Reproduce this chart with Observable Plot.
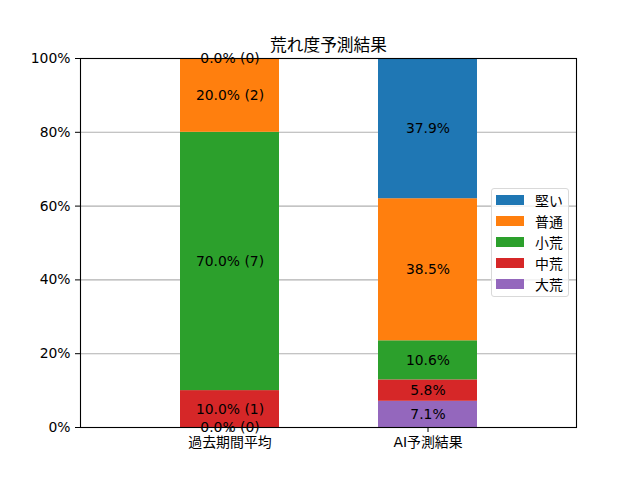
<!DOCTYPE html>
<html>
<head>
<meta charset="utf-8">
<script src="https://cdn.jsdelivr.net/npm/d3@7"></script>
<script src="https://cdn.jsdelivr.net/npm/@observablehq/plot@0.6"></script>
<style>
  html, body { margin: 0; padding: 0; background: #fff; }
  #wrap { position: relative; width: 640px; height: 480px; font-family: "DejaVu Sans", "Noto Sans CJK JP", sans-serif; }
  #legend { position: absolute; left: 491px; top: 188px; width: 78px; height: 109px; box-sizing: border-box;
    border: 1px solid #d9d9d9; border-radius: 3px; background: rgba(255,255,255,0.8); padding: 0 0 0 4px; }
  .item { display: flex; align-items: center; height: 21px; font-size: 13.9px; color: #000; }
  .sw { width: 28px; height: 10px; margin-right: 11px; flex: none; }
</style>
</head>
<body>
<div id="wrap"></div>
<script>
const categories = ["過去期間平均", "AI予測結果"];
const seriesNames = ["大荒", "中荒", "小荒", "普通", "堅い"];
const seriesColors = ["#9467bd", "#d62728", "#2ca02c", "#ff7f0e", "#1f77b4"];
const pastPct = [0.0, 10.0, 70.0, 20.0, 0.0];
const pastCount = [0, 1, 7, 2, 0];
const aiPct = [7.1, 5.8, 10.6, 38.5, 37.9];
const yTicks = [0, 0.2, 0.4, 0.6, 0.8, 1.0];
const title = "荒れ度予測結果";

const data = [];
seriesNames.forEach((s, i) => {
  data.push({cat: categories[0], series: s, value: pastPct[i] / 100, label: `${pastPct[i].toFixed(1)}% (${pastCount[i]})`});
});
seriesNames.forEach((s, i) => {
  data.push({cat: categories[1], series: s, value: aiPct[i] / 100, label: `${aiPct[i].toFixed(1)}%`});
});

const font = `"DejaVu Sans", "Noto Sans CJK JP", sans-serif`;

const chart = Plot.plot({
  width: 640,
  height: 480,
  marginTop: 58,
  marginBottom: 53,
  marginLeft: 80,
  marginRight: 64,
  style: {fontFamily: font, fontSize: "13.9px", color: "#000", background: "#fff"},
  x: {domain: categories, padding: 0.5, label: null},
  y: {domain: [0, 1], label: null},
  color: {domain: seriesNames, range: seriesColors},
  marks: [
    Plot.gridY(yTicks, {stroke: "#b0b0b0", strokeOpacity: 1, strokeWidth: 1.1}),
    Plot.barY(data, Plot.stackY({x: "cat", y: "value", z: "series", fill: "series", order: seriesNames})),
    Plot.text(data, Plot.stackY({x: "cat", y: "value", z: "series", text: "label", order: seriesNames, fill: "#000", fontSize: 13.9})),
    Plot.frame({stroke: "#000", strokeWidth: 1.1}),
    Plot.axisY({ticks: yTicks, tickFormat: d3.format(".0%"), tickSize: 5, tickPadding: 5, fontSize: 13.9, label: null}),
    Plot.axisX({tickSize: 5, tickPadding: 5, fontSize: 13.9, label: null}),
    Plot.text([title], {frameAnchor: "top", dy: -19, fontSize: 16.7, fill: "#000"})
  ]
});

const wrap = document.getElementById("wrap");
wrap.appendChild(chart);

const legend = document.createElement("div");
legend.id = "legend";
for (let i = seriesNames.length - 1; i >= 0; i--) {
  const it = document.createElement("div");
  it.className = "item";
  const sw = document.createElement("div");
  sw.className = "sw";
  sw.style.background = seriesColors[i];
  const lab = document.createElement("span");
  lab.textContent = seriesNames[i];
  it.appendChild(sw);
  it.appendChild(lab);
  legend.appendChild(it);
}
wrap.appendChild(legend);
</script>
</body>
</html>
